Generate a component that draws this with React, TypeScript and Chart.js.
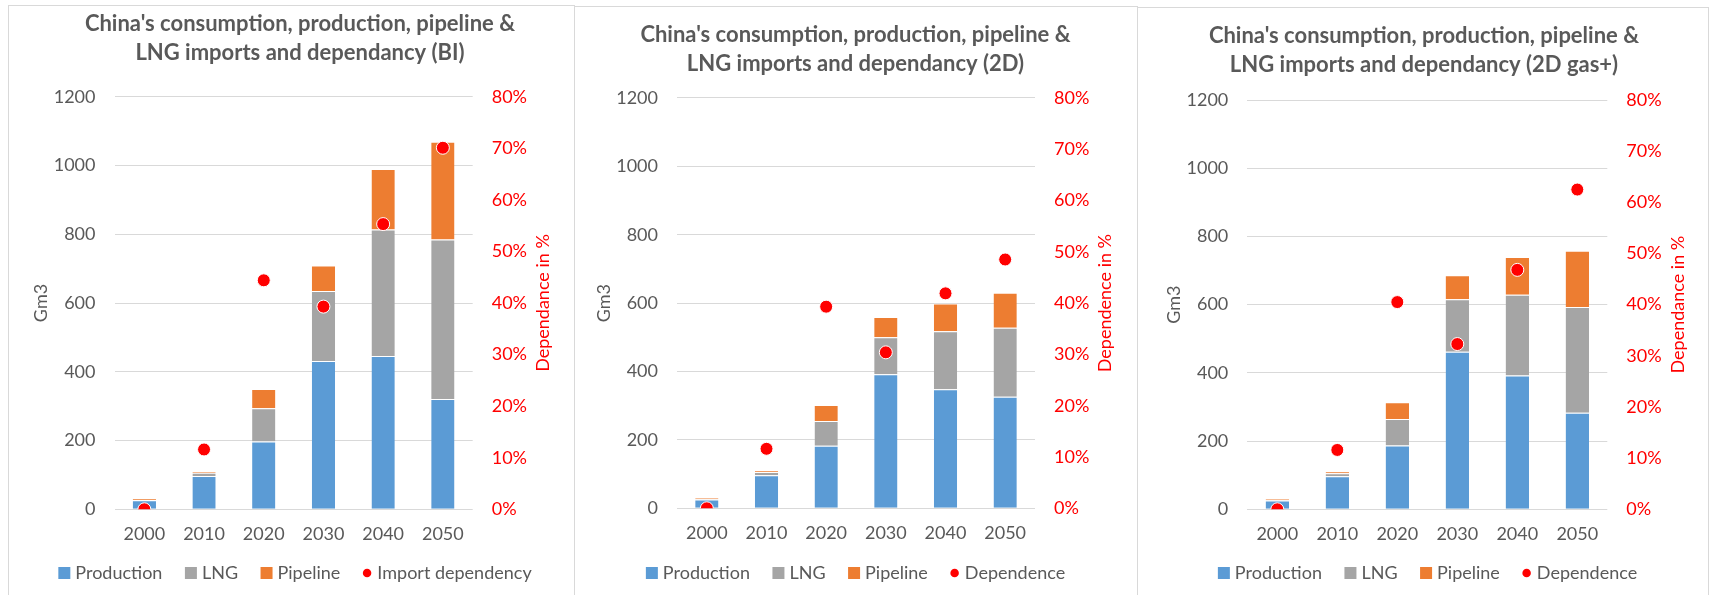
import React, { useEffect, useRef } from 'react';
import { Chart, registerables } from 'chart.js';

Chart.register(...registerables);

// ---------- data ----------
const years = ['2000', '2010', '2020', '2030', '2040', '2050'];

const biProduction = [26, 97, 197, 431, 446, 321];
const biLng = [1, 9, 97, 204, 368, 464];
const biPipeline = [4, 5, 56, 74, 176, 284];
const biDependency = [0, 11.6, 44.4, 39.3, 55.3, 70.1];

const d2Production = [26, 97, 183, 392, 348, 326];
const d2Lng = [1, 9, 72, 108, 170, 202];
const d2Pipeline = [4, 5, 47, 59, 81, 102];
const d2Dependence = [0, 11.6, 39.3, 30.4, 41.9, 48.5];

const gasProduction = [26, 97, 187, 462, 392, 283];
const gasLng = [1, 9, 78, 154, 237, 310];
const gasPipeline = [4, 5, 49, 70, 111, 165];
const gasDependence = [0, 11.6, 40.5, 32.3, 46.8, 62.5];

const leftAxis = { min: 0, max: 1200, step: 200 };
const rightAxis = { min: 0, max: 80, step: 10 };

// ---------- style ----------
const FONT = 'Lato';
const GREY_TEXT = '#595959';
const GRID = '#d9d9d9';
const RED = '#FF0000';
const BLUE = '#5B9BD5';
const GREY = '#A5A5A5';
const ORANGE = '#ED7D31';
const TICK_SIZE = 18;
const TITLE_SIZE = 22;
const TITLE_LH = 29;
const CANVAS_H = 595;
const X_AXIS_H = 40;
const LEGEND_Y = 573;

type PanelCfg = {
  left: number;
  width: number;
  borderTop: number;
  borderW: number;
  padL: number;
  title: string[];
  dotLabel: string;
  rightTitle: string;
  production: number[];
  lng: number[];
  pipeline: number[];
  dep: number[];
  chartLeft: number;
  chartRight: number;
  chartTop: number;
  chartBottom: number;
  titleTop: number;
  legendShift: number;
};

const PANELS: PanelCfg[] = [
  {
    left: 8, width: 566, borderTop: 5, borderW: 567, padL: 18,
    title: ["China's consumption, production, pipeline &", 'LNG imports and dependancy (BI)'],
    dotLabel: 'Import dependency', rightTitle: 'Dependance in %',
    production: biProduction, lng: biLng, pipeline: biPipeline, dep: biDependency,
    chartLeft: 106.5, chartRight: 464.7, chartTop: 96.7, chartBottom: 509.3, titleTop: 9, legendShift: 4,
  },
  {
    left: 574, width: 563, borderTop: 6, borderW: 564, padL: 0,
    title: ["China's consumption, production, pipeline &", 'LNG imports and dependancy (2D)'],
    dotLabel: 'Dependence', rightTitle: 'Dependence in %',
    production: d2Production, lng: d2Lng, pipeline: d2Pipeline, dep: d2Dependence,
    chartLeft: 103, chartRight: 461, chartTop: 97.9, chartBottom: 508.3, titleTop: 20, legendShift: 0,
  },
  {
    left: 1137, width: 571, borderTop: 7, borderW: 572, padL: 3,
    title: ["China's consumption, production, pipeline &", 'LNG imports and dependancy (2D gas+)'],
    dotLabel: 'Dependence', rightTitle: 'Dependance in %',
    production: gasProduction, lng: gasLng, pipeline: gasPipeline, dep: gasDependence,
    chartLeft: 110.3, chartRight: 470.3, chartTop: 100, chartBottom: 509.3, titleTop: 21.5, legendShift: 5,
  },
];

const axisTitlesPlugin = {
  id: 'axisTitles',
  afterDraw(chart: any, _args: any, opts: any) {
    const { ctx, chartArea } = chart;
    const midY = (chartArea.top + chartArea.bottom) / 2;
    ctx.save();
    ctx.font = `${TICK_SIZE}px ${FONT}`;
    ctx.textAlign = 'center';
    ctx.textBaseline = 'middle';
    ctx.fillStyle = GREY_TEXT;
    ctx.translate(chartArea.left - opts.leftOffset, midY);
    ctx.rotate(-Math.PI / 2);
    ctx.fillText(opts.leftText, 0, 0);
    ctx.restore();
    ctx.save();
    ctx.font = `${TICK_SIZE}px ${FONT}`;
    ctx.textAlign = 'center';
    ctx.textBaseline = 'middle';
    ctx.fillStyle = RED;
    ctx.translate(chartArea.right + opts.rightOffset, midY);
    ctx.rotate(-Math.PI / 2);
    ctx.fillText(opts.rightText, 0, 0);
    ctx.restore();
  },
};

// legend drawn from the chart's own datasets (label + colour + type)
const BOX = 12;
const BOX_GAP = 5;
const DOT_D = 8.5;
const DOT_GAP = 6;
const ITEM_GAP = 22.5;

const legendPlugin = {
  id: 'excelLegend',
  afterDraw(chart: any, _args: any, opts: any) {
    const ctx = chart.ctx;
    const items = chart.data.datasets.map((d: any) => ({
      label: d.label as string,
      color: (d.type === 'line' ? d.pointBackgroundColor : d.backgroundColor) as string,
      dot: d.type === 'line',
    }));
    ctx.save();
    ctx.font = `${TICK_SIZE}px ${FONT}`;
    ctx.textAlign = 'left';
    ctx.textBaseline = 'middle';
    const widths = items.map(
      (it: any) => (it.dot ? DOT_D + DOT_GAP : BOX + BOX_GAP) + ctx.measureText(it.label).width,
    );
    const total = widths.reduce((a: number, b: number) => a + b, 0) + ITEM_GAP * (items.length - 1);
    let x = chart.width / 2 + opts.shift - total / 2;
    const y = opts.y;
    items.forEach((it: any, i: number) => {
      ctx.fillStyle = it.color;
      let tx;
      if (it.dot) {
        ctx.beginPath();
        ctx.arc(x + DOT_D / 2, y, DOT_D / 2, 0, Math.PI * 2);
        ctx.fill();
        tx = x + DOT_D + DOT_GAP;
      } else {
        ctx.fillRect(x, y - BOX / 2, BOX, BOX);
        tx = x + BOX + BOX_GAP;
      }
      ctx.fillStyle = GREY_TEXT;
      ctx.fillText(it.label, tx, y + 0.5);
      x += widths[i] + ITEM_GAP;
    });
    ctx.restore();
  },
};

function Panel({ cfg }: { cfg: PanelCfg }) {
  const ref = useRef<HTMLCanvasElement | null>(null);

  useEffect(() => {
    if (!ref.current) return;
    const wL = cfg.chartLeft - cfg.padL;
    const wR = cfg.width - cfg.chartRight;
    const titleBottom = cfg.chartTop - cfg.titleTop - 2 * TITLE_LH;
    const padB = CANVAS_H - cfg.chartBottom - X_AXIS_H;
    const seg = { top: 1, left: 0, right: 0, bottom: 0 } as any;
    const segColor = 'rgba(255,255,255,0.55)';

    const chart = new Chart(ref.current, {
      type: 'bar',
      data: {
        labels: years,
        datasets: [
          {
            type: 'bar', label: 'Production', data: cfg.production, backgroundColor: BLUE,
            borderWidth: seg, borderColor: segColor,
            barPercentage: 0.39, categoryPercentage: 1, yAxisID: 'y', order: 1,
          },
          {
            type: 'bar', label: 'LNG', data: cfg.lng, backgroundColor: GREY,
            borderWidth: seg, borderColor: segColor,
            barPercentage: 0.39, categoryPercentage: 1, yAxisID: 'y', order: 1,
          },
          {
            type: 'bar', label: 'Pipeline', data: cfg.pipeline, backgroundColor: ORANGE,
            borderWidth: seg, borderColor: segColor,
            barPercentage: 0.39, categoryPercentage: 1, yAxisID: 'y', order: 1,
          },
          {
            type: 'line', label: cfg.dotLabel, data: cfg.dep, showLine: false, yAxisID: 'y1',
            pointRadius: 6.5, pointHoverRadius: 6.5, pointBackgroundColor: RED, pointBorderColor: '#ffffff',
            pointBorderWidth: 1, backgroundColor: RED, borderColor: RED, order: 0,
          } as any,
        ],
      },
      options: {
        animation: false,
        responsive: false,
        maintainAspectRatio: false,
        layout: { padding: { left: cfg.padL, right: 0, top: 0, bottom: padB } },
        scales: {
          x: {
            stacked: true,
            grid: { display: false, drawTicks: false },
            border: { display: false },
            ticks: { color: GREY_TEXT, font: { family: FONT, size: TICK_SIZE }, padding: 14.4, maxRotation: 0 },
            afterFit: (s: any) => { s.height = X_AXIS_H; },
          },
          y: {
            stacked: true,
            position: 'left',
            min: leftAxis.min,
            max: leftAxis.max,
            grid: { color: GRID, lineWidth: 1, drawTicks: false },
            border: { display: false },
            ticks: {
              stepSize: leftAxis.step, color: GREY_TEXT, font: { family: FONT, size: TICK_SIZE }, padding: 19,
              callback: (v: any) => String(v),
            },
            afterFit: (s: any) => { s.width = wL; },
          },
          y1: {
            position: 'right',
            min: rightAxis.min,
            max: rightAxis.max,
            grid: { display: false, drawTicks: false },
            border: { display: false },
            ticks: {
              stepSize: rightAxis.step, color: RED, font: { family: FONT, size: TICK_SIZE }, padding: 19,
              callback: (v: any) => `${v}%`,
            },
            afterFit: (s: any) => { s.width = wR; },
          },
        },
        plugins: {
          title: {
            display: true,
            text: cfg.title,
            color: GREY_TEXT,
            font: { family: FONT, size: TITLE_SIZE, weight: 'bold', lineHeight: TITLE_LH / TITLE_SIZE },
            padding: { top: cfg.titleTop, bottom: titleBottom },
          },
          legend: { display: false },
          tooltip: { enabled: false },
          axisTitles: { leftText: 'Gm3', rightText: cfg.rightTitle, leftOffset: 73, rightOffset: 70.5 },
          excelLegend: { y: LEGEND_Y, shift: cfg.legendShift },
        } as any,
      },
      plugins: [axisTitlesPlugin as any, legendPlugin as any],
    });
    return () => chart.destroy();
  }, [cfg]);

  return (
    <>
      <div
        style={{
          position: 'absolute', left: cfg.left, top: cfg.borderTop, width: cfg.borderW, height: 700,
          border: `1px solid ${GRID}`, boxSizing: 'border-box',
        }}
      />
      <canvas
        ref={ref}
        width={cfg.width}
        height={CANVAS_H}
        style={{ position: 'absolute', left: cfg.left, top: 0, width: cfg.width, height: CANVAS_H }}
      />
    </>
  );
}

export default function App() {
  return (
    <div
      style={{
        position: 'absolute', left: 0, top: 0, width: 1710, height: 595, overflow: 'hidden', background: '#fff',
      }}
    >
      {PANELS.map((p, i) => (
        <Panel key={i} cfg={p} />
      ))}
    </div>
  );
}
